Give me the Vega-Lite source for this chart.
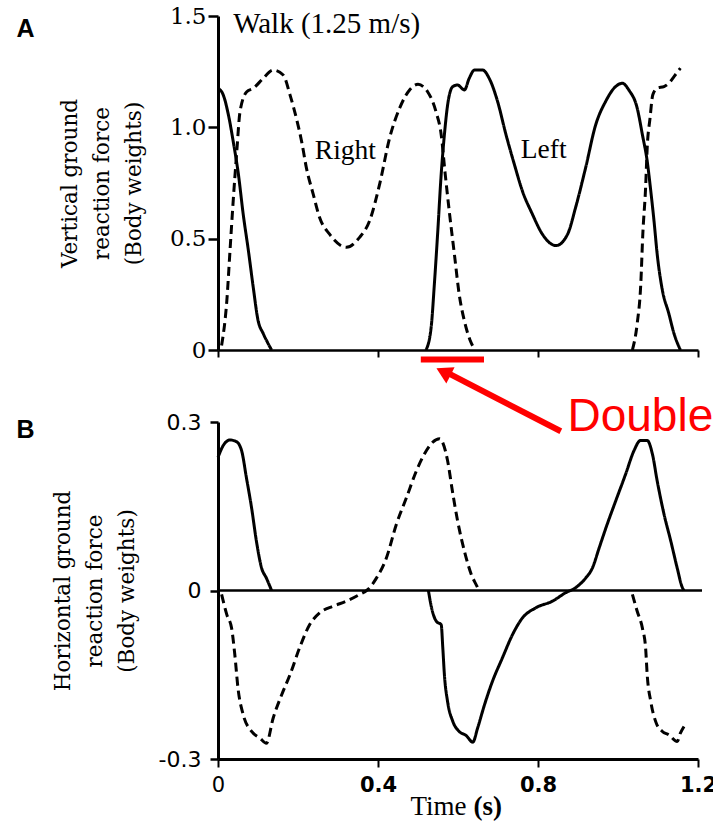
{
  "$schema": "https://vega.github.io/schema/vega-lite/v6.json",
  "background": "white",
  "padding": {"left": 16, "top": 5, "right": 0, "bottom": 0},
  "bounds": "flush",
  "spacing": 72,
  "config": {
    "view": {"stroke": null},
    "axis": {"grid": false, "domainColor": "black", "tickColor": "black", "labelColor": "black", "titleColor": "black", "labelFlush": false, "labelOverlap": false, "labelBound": false, "titleFontWeight": "normal"}
  },
  "datasets": {
    "vert": [
      {"t":0,"f":1.175,"side":"Left","seg":"L1"},{"t":0.013,"f":1.146,"side":"Left","seg":"L1"},{"t":0.026,"f":1.056,"side":"Left","seg":"L1"},{"t":0.038,"f":0.937,"side":"Left","seg":"L1"},{"t":0.051,"f":0.789,"side":"Left","seg":"L1"},{"t":0.063,"f":0.61,"side":"Left","seg":"L1"},{"t":0.076,"f":0.446,"side":"Left","seg":"L1"},{"t":0.088,"f":0.283,"side":"Left","seg":"L1"},{"t":0.1,"f":0.134,"side":"Left","seg":"L1"},{"t":0.113,"f":0.074,"side":"Left","seg":"L1"},{"t":0.125,"f":0.03,"side":"Left","seg":"L1"},{"t":0.134,"f":0,"side":"Left","seg":"L1"},
      {"t":0.52,"f":0,"side":"Left","seg":"L2"},{"t":0.533,"f":0.104,"side":"Left","seg":"L2"},{"t":0.541,"f":0.298,"side":"Left","seg":"L2"},{"t":0.549,"f":0.52,"side":"Left","seg":"L2"},{"t":0.558,"f":0.79,"side":"Left","seg":"L2"},{"t":0.566,"f":0.967,"side":"Left","seg":"L2"},{"t":0.574,"f":1.1,"side":"Left","seg":"L2"},{"t":0.587,"f":1.183,"side":"Left","seg":"L2"},{"t":0.599,"f":1.19,"side":"Left","seg":"L2"},{"t":0.616,"f":1.168,"side":"Left","seg":"L2"},{"t":0.628,"f":1.22,"side":"Left","seg":"L2"},{"t":0.641,"f":1.257,"side":"Left","seg":"L2"},{"t":0.662,"f":1.257,"side":"Left","seg":"L2"},{"t":0.678,"f":1.22,"side":"Left","seg":"L2"},{"t":0.699,"f":1.116,"side":"Left","seg":"L2"},{"t":0.72,"f":0.967,"side":"Left","seg":"L2"},{"t":0.741,"f":0.833,"side":"Left","seg":"L2"},{"t":0.761,"f":0.714,"side":"Left","seg":"L2"},{"t":0.786,"f":0.61,"side":"Left","seg":"L2"},{"t":0.811,"f":0.52,"side":"Left","seg":"L2"},{"t":0.845,"f":0.469,"side":"Left","seg":"L2"},{"t":0.874,"f":0.52,"side":"Left","seg":"L2"},{"t":0.894,"f":0.64,"side":"Left","seg":"L2"},{"t":0.919,"f":0.818,"side":"Left","seg":"L2"},{"t":0.944,"f":1.01,"side":"Left","seg":"L2"},{"t":0.969,"f":1.116,"side":"Left","seg":"L2"},{"t":0.994,"f":1.183,"side":"Left","seg":"L2"},{"t":1.011,"f":1.198,"side":"Left","seg":"L2"},{"t":1.027,"f":1.168,"side":"Left","seg":"L2"},{"t":1.048,"f":1.086,"side":"Left","seg":"L2"},{"t":1.061,"f":0.967,"side":"Left","seg":"L2"},{"t":1.073,"f":0.848,"side":"Left","seg":"L2"},{"t":1.081,"f":0.729,"side":"Left","seg":"L2"},{"t":1.09,"f":0.58,"side":"Left","seg":"L2"},{"t":1.098,"f":0.43,"side":"Left","seg":"L2"},{"t":1.111,"f":0.268,"side":"Left","seg":"L2"},{"t":1.127,"f":0.164,"side":"Left","seg":"L2"},{"t":1.14,"f":0.074,"side":"Left","seg":"L2"},{"t":1.156,"f":0,"side":"Left","seg":"L2"},
      {"t":0.009,"f":0.02,"side":"Right","seg":"R1"},{"t":0.022,"f":0.22,"side":"Right","seg":"R1"},{"t":0.03,"f":0.446,"side":"Right","seg":"R1"},{"t":0.038,"f":0.67,"side":"Right","seg":"R1"},{"t":0.047,"f":0.893,"side":"Right","seg":"R1"},{"t":0.055,"f":1.07,"side":"Right","seg":"R1"},{"t":0.072,"f":1.16,"side":"Right","seg":"R1"},{"t":0.088,"f":1.175,"side":"Right","seg":"R1"},{"t":0.113,"f":1.22,"side":"Right","seg":"R1"},{"t":0.138,"f":1.257,"side":"Right","seg":"R1"},{"t":0.163,"f":1.235,"side":"Right","seg":"R1"},{"t":0.18,"f":1.146,"side":"Right","seg":"R1"},{"t":0.196,"f":1.04,"side":"Right","seg":"R1"},{"t":0.209,"f":0.937,"side":"Right","seg":"R1"},{"t":0.221,"f":0.818,"side":"Right","seg":"R1"},{"t":0.238,"f":0.7,"side":"Right","seg":"R1"},{"t":0.254,"f":0.595,"side":"Right","seg":"R1"},{"t":0.279,"f":0.52,"side":"Right","seg":"R1"},{"t":0.321,"f":0.461,"side":"Right","seg":"R1"},{"t":0.354,"f":0.506,"side":"Right","seg":"R1"},{"t":0.379,"f":0.58,"side":"Right","seg":"R1"},{"t":0.404,"f":0.744,"side":"Right","seg":"R1"},{"t":0.429,"f":0.952,"side":"Right","seg":"R1"},{"t":0.454,"f":1.086,"side":"Right","seg":"R1"},{"t":0.479,"f":1.168,"side":"Right","seg":"R1"},{"t":0.5,"f":1.193,"side":"Right","seg":"R1"},{"t":0.524,"f":1.16,"side":"Right","seg":"R1"},{"t":0.545,"f":1.07,"side":"Right","seg":"R1"},{"t":0.558,"f":0.967,"side":"Right","seg":"R1"},{"t":0.568,"f":0.79,"side":"Right","seg":"R1"},{"t":0.579,"f":0.61,"side":"Right","seg":"R1"},{"t":0.591,"f":0.43,"side":"Right","seg":"R1"},{"t":0.603,"f":0.25,"side":"Right","seg":"R1"},{"t":0.616,"f":0.13,"side":"Right","seg":"R1"},{"t":0.63,"f":0.045,"side":"Right","seg":"R1"},{"t":0.643,"f":0,"side":"Right","seg":"R1"},
      {"t":1.036,"f":0,"side":"Right","seg":"R2"},{"t":1.048,"f":0.119,"side":"Right","seg":"R2"},{"t":1.057,"f":0.298,"side":"Right","seg":"R2"},{"t":1.062,"f":0.52,"side":"Right","seg":"R2"},{"t":1.069,"f":0.729,"side":"Right","seg":"R2"},{"t":1.073,"f":0.908,"side":"Right","seg":"R2"},{"t":1.08,"f":1.04,"side":"Right","seg":"R2"},{"t":1.087,"f":1.146,"side":"Right","seg":"R2"},{"t":1.098,"f":1.176,"side":"Right","seg":"R2"},{"t":1.115,"f":1.183,"side":"Right","seg":"R2"},{"t":1.127,"f":1.198,"side":"Right","seg":"R2"},{"t":1.14,"f":1.228,"side":"Right","seg":"R2"},{"t":1.156,"f":1.266,"side":"Right","seg":"R2"}
    ],
    "horiz": [
      {"t":0,"f":0.237,"side":"Left","seg":"L1"},{"t":0.013,"f":0.258,"side":"Left","seg":"L1"},{"t":0.03,"f":0.268,"side":"Left","seg":"L1"},{"t":0.046,"f":0.265,"side":"Left","seg":"L1"},{"t":0.059,"f":0.249,"side":"Left","seg":"L1"},{"t":0.071,"f":0.201,"side":"Left","seg":"L1"},{"t":0.084,"f":0.147,"side":"Left","seg":"L1"},{"t":0.096,"f":0.088,"side":"Left","seg":"L1"},{"t":0.109,"f":0.04,"side":"Left","seg":"L1"},{"t":0.121,"f":0.022,"side":"Left","seg":"L1"},{"t":0.134,"f":0,"side":"Left","seg":"L1"},
      {"t":0.526,"f":0,"side":"Left","seg":"L2"},{"t":0.534,"f":-0.031,"side":"Left","seg":"L2"},{"t":0.546,"f":-0.055,"side":"Left","seg":"L2"},{"t":0.558,"f":-0.061,"side":"Left","seg":"L2"},{"t":0.562,"f":-0.102,"side":"Left","seg":"L2"},{"t":0.566,"f":-0.15,"side":"Left","seg":"L2"},{"t":0.574,"f":-0.198,"side":"Left","seg":"L2"},{"t":0.587,"f":-0.233,"side":"Left","seg":"L2"},{"t":0.603,"f":-0.251,"side":"Left","seg":"L2"},{"t":0.62,"f":-0.258,"side":"Left","seg":"L2"},{"t":0.637,"f":-0.27,"side":"Left","seg":"L2"},{"t":0.649,"f":-0.245,"side":"Left","seg":"L2"},{"t":0.666,"f":-0.204,"side":"Left","seg":"L2"},{"t":0.686,"f":-0.162,"side":"Left","seg":"L2"},{"t":0.711,"f":-0.12,"side":"Left","seg":"L2"},{"t":0.736,"f":-0.079,"side":"Left","seg":"L2"},{"t":0.761,"f":-0.049,"side":"Left","seg":"L2"},{"t":0.794,"f":-0.031,"side":"Left","seg":"L2"},{"t":0.836,"f":-0.019,"side":"Left","seg":"L2"},{"t":0.869,"f":-0.004,"side":"Left","seg":"L2"},{"t":0.894,"f":0.005,"side":"Left","seg":"L2"},{"t":0.919,"f":0.022,"side":"Left","seg":"L2"},{"t":0.936,"f":0.04,"side":"Left","seg":"L2"},{"t":0.953,"f":0.076,"side":"Left","seg":"L2"},{"t":0.973,"f":0.118,"side":"Left","seg":"L2"},{"t":0.994,"f":0.159,"side":"Left","seg":"L2"},{"t":1.019,"f":0.207,"side":"Left","seg":"L2"},{"t":1.04,"f":0.249,"side":"Left","seg":"L2"},{"t":1.056,"f":0.267,"side":"Left","seg":"L2"},{"t":1.073,"f":0.267,"side":"Left","seg":"L2"},{"t":1.086,"f":0.243,"side":"Left","seg":"L2"},{"t":1.098,"f":0.195,"side":"Left","seg":"L2"},{"t":1.115,"f":0.136,"side":"Left","seg":"L2"},{"t":1.132,"f":0.088,"side":"Left","seg":"L2"},{"t":1.148,"f":0.04,"side":"Left","seg":"L2"},{"t":1.161,"f":0.005,"side":"Left","seg":"L2"},{"t":1.165,"f":0,"side":"Left","seg":"L2"},
      {"t":0.009,"f":-0.007,"side":"Right","seg":"R1"},{"t":0.022,"f":-0.043,"side":"Right","seg":"R1"},{"t":0.034,"f":-0.067,"side":"Right","seg":"R1"},{"t":0.042,"f":-0.114,"side":"Right","seg":"R1"},{"t":0.05,"f":-0.174,"side":"Right","seg":"R1"},{"t":0.063,"f":-0.221,"side":"Right","seg":"R1"},{"t":0.084,"f":-0.251,"side":"Right","seg":"R1"},{"t":0.105,"f":-0.263,"side":"Right","seg":"R1"},{"t":0.121,"f":-0.272,"side":"Right","seg":"R1"},{"t":0.138,"f":-0.227,"side":"Right","seg":"R1"},{"t":0.159,"f":-0.186,"side":"Right","seg":"R1"},{"t":0.18,"f":-0.15,"side":"Right","seg":"R1"},{"t":0.204,"f":-0.102,"side":"Right","seg":"R1"},{"t":0.229,"f":-0.061,"side":"Right","seg":"R1"},{"t":0.254,"f":-0.04,"side":"Right","seg":"R1"},{"t":0.288,"f":-0.028,"side":"Right","seg":"R1"},{"t":0.321,"f":-0.019,"side":"Right","seg":"R1"},{"t":0.354,"f":-0.007,"side":"Right","seg":"R1"},{"t":0.375,"f":0.002,"side":"Right","seg":"R1"},{"t":0.396,"f":0.022,"side":"Right","seg":"R1"},{"t":0.421,"f":0.058,"side":"Right","seg":"R1"},{"t":0.446,"f":0.118,"side":"Right","seg":"R1"},{"t":0.471,"f":0.165,"side":"Right","seg":"R1"},{"t":0.496,"f":0.213,"side":"Right","seg":"R1"},{"t":0.516,"f":0.243,"side":"Right","seg":"R1"},{"t":0.537,"f":0.264,"side":"Right","seg":"R1"},{"t":0.554,"f":0.27,"side":"Right","seg":"R1"},{"t":0.574,"f":0.231,"side":"Right","seg":"R1"},{"t":0.586,"f":0.177,"side":"Right","seg":"R1"},{"t":0.599,"f":0.124,"side":"Right","seg":"R1"},{"t":0.616,"f":0.07,"side":"Right","seg":"R1"},{"t":0.633,"f":0.029,"side":"Right","seg":"R1"},{"t":0.649,"f":0.005,"side":"Right","seg":"R1"},{"t":0.652,"f":0,"side":"Right","seg":"R1"},
      {"t":1.036,"f":-0.007,"side":"Right","seg":"R2"},{"t":1.048,"f":-0.037,"side":"Right","seg":"R2"},{"t":1.061,"f":-0.067,"side":"Right","seg":"R2"},{"t":1.069,"f":-0.102,"side":"Right","seg":"R2"},{"t":1.073,"f":-0.15,"side":"Right","seg":"R2"},{"t":1.082,"f":-0.198,"side":"Right","seg":"R2"},{"t":1.094,"f":-0.233,"side":"Right","seg":"R2"},{"t":1.111,"f":-0.251,"side":"Right","seg":"R2"},{"t":1.127,"f":-0.257,"side":"Right","seg":"R2"},{"t":1.148,"f":-0.269,"side":"Right","seg":"R2"},{"t":1.156,"f":-0.254,"side":"Right","seg":"R2"},{"t":1.165,"f":-0.242,"side":"Right","seg":"R2"}
    ]
  },
  "vconcat": [
    {
      "width": 480,
      "height": 334,
      "encoding": {
        "x": {"field": "t", "type": "quantitative", "scale": {"domain": [0, 1.2], "nice": false, "zero": false},
          "axis": {"values": [0, 0.4, 0.8, 1.2], "labels": false, "title": null, "tickSize": 7, "tickWidth": 2, "domainWidth": 2.5}},
        "y": {"field": "f", "type": "quantitative", "scale": {"domain": [0, 1.5], "nice": false, "zero": false},
          "axis": {"values": [0, 0.5, 1, 1.5], "labelExpr": "datum.value == 0 ? '0' : format(datum.value, '.1f')", "labelFont": "DejaVu Serif", "labelFontSize": 23, "tickSize": 10, "tickWidth": 2.5, "labelPadding": 2, "domainWidth": 3,
            "title": ["Vertical ground", "reaction force", "(Body weights)"], "titleFont": "DejaVu Serif", "titleFontSize": 21.5, "titleLineHeight": 32, "titlePadding": 24}}
      },
      "layer": [
        {
          "data": {"name": "vert"},
          "mark": {"type": "line", "strokeWidth": 3, "color": "black", "interpolate": "monotone"},
          "encoding": {
            "detail": {"field": "seg", "type": "nominal"},
            "strokeDash": {"field": "side", "type": "nominal", "scale": {"domain": ["Left", "Right"], "range": [[1, 0], [9, 5]]}, "legend": null}
          }
        },
        {
          "data": {"values": [{"t": 0.507, "t2": 0.665, "f": -0.043}]},
          "mark": {"type": "rule", "color": "#ff0000", "strokeWidth": 6},
          "encoding": {"x2": {"field": "t2"}}
        },
        {
          "data": {"values": [{"t": 0.857, "f": -0.365, "t2": 0.568, "f2": -0.097}]},
          "mark": {"type": "rule", "color": "#ff0000", "strokeWidth": 6},
          "encoding": {"x2": {"field": "t2"}, "y2": {"field": "f2"}}
        },
        {
          "data": {"values": [{"t": 0.5636, "f": -0.098}]},
          "mark": {"type": "point", "shape": "triangle-up", "filled": true, "color": "#ff0000", "opacity": 1, "size": 330, "angle": 297}
        },
        {
          "data": {"values": [{"t": 0.8736, "f": -0.366, "label": "Double"}]},
          "mark": {"type": "text", "align": "left", "baseline": "alphabetic", "font": "Liberation Sans", "fontSize": 46, "color": "#ff0000"},
          "encoding": {"text": {"field": "label"}}
        },
        {
          "data": {"values": [{"t": 0.038, "f": 1.4255, "label": "Walk (1.25 m/s)"}]},
          "mark": {"type": "text", "align": "left", "baseline": "alphabetic", "font": "Liberation Serif", "fontSize": 29, "color": "black"},
          "encoding": {"text": {"field": "label"}}
        },
        {
          "data": {"values": [{"t": 0.242, "f": 0.856, "label": "Right"}, {"t": 0.757, "f": 0.863, "label": "Left"}]},
          "mark": {"type": "text", "align": "left", "baseline": "alphabetic", "font": "Liberation Serif", "fontSize": 27.5, "color": "black"},
          "encoding": {"text": {"field": "label"}}
        },
        {
          "data": {"values": [{"t": -0.504, "f": 1.406, "label": "A"}]},
          "mark": {"type": "text", "align": "left", "baseline": "alphabetic", "font": "Liberation Sans", "fontWeight": "bold", "fontSize": 25, "color": "black"},
          "encoding": {"text": {"field": "label"}}
        }
      ]
    },
    {
      "width": 480,
      "height": 337,
      "encoding": {
        "x": {"field": "t", "type": "quantitative", "scale": {"domain": [0, 1.2], "nice": false, "zero": false},
          "axis": {"values": [0, 0.4, 0.8, 1.2], "labelExpr": "datum.value == 0 ? '0' : format(datum.value, '.1f')", "labelFont": "DejaVu Sans", "labelFontSize": 21,
            "labelFontWeight": {"condition": {"test": "datum.value == 0", "value": "normal"}, "value": "bold"},
            "tickSize": 8, "tickWidth": 2, "labelPadding": 7, "domainWidth": 3, "title": null}},
        "y": {"field": "f", "type": "quantitative", "scale": {"domain": [-0.3, 0.3], "nice": false, "zero": false},
          "axis": {"values": [-0.3, 0, 0.3], "labelExpr": "datum.value == 0 ? '0' : (datum.value < 0 ? '-' : '') + format(abs(datum.value), '.1f')", "labelFont": "DejaVu Sans", "labelFontSize": 22, "tickSize": 8, "tickWidth": 2.5, "labelPadding": 9, "domainWidth": 3,
            "title": ["Horizontal ground", "reaction force", "(Body weights)"], "titleFont": "DejaVu Serif", "titleFontSize": 21.5, "titleLineHeight": 32, "titlePadding": 20}}
      },
      "layer": [
        {
          "data": {"values": [{"t": 0, "t2": 1.21, "f": 0}]},
          "mark": {"type": "rule", "color": "black", "strokeWidth": 2.5},
          "encoding": {"x2": {"field": "t2"}}
        },
        {
          "data": {"name": "horiz"},
          "mark": {"type": "line", "strokeWidth": 3, "color": "black", "interpolate": "monotone"},
          "encoding": {
            "detail": {"field": "seg", "type": "nominal"},
            "strokeDash": {"field": "side", "type": "nominal", "scale": {"domain": ["Left", "Right"], "range": [[1, 0], [9, 5]]}, "legend": null}
          }
        },
        {
          "data": {"values": [{"t": -0.504, "f": 0.271, "label": "B"}]},
          "mark": {"type": "text", "align": "left", "baseline": "alphabetic", "font": "Liberation Sans", "fontWeight": "bold", "fontSize": 25, "color": "black"},
          "encoding": {"text": {"field": "label"}}
        },
        {
          "data": {"values": [{"t": 0.481, "f": -0.4, "label": "Time"}]},
          "mark": {"type": "text", "align": "left", "baseline": "alphabetic", "font": "Liberation Serif", "fontSize": 27, "color": "black"},
          "encoding": {"text": {"field": "label"}}
        },
        {
          "data": {"values": [{"t": 0.639, "f": -0.4, "label": "(s)"}]},
          "mark": {"type": "text", "align": "left", "baseline": "alphabetic", "font": "Liberation Serif", "fontWeight": "bold", "fontSize": 27, "color": "black"},
          "encoding": {"text": {"field": "label"}}
        }
      ]
    }
  ]
}
